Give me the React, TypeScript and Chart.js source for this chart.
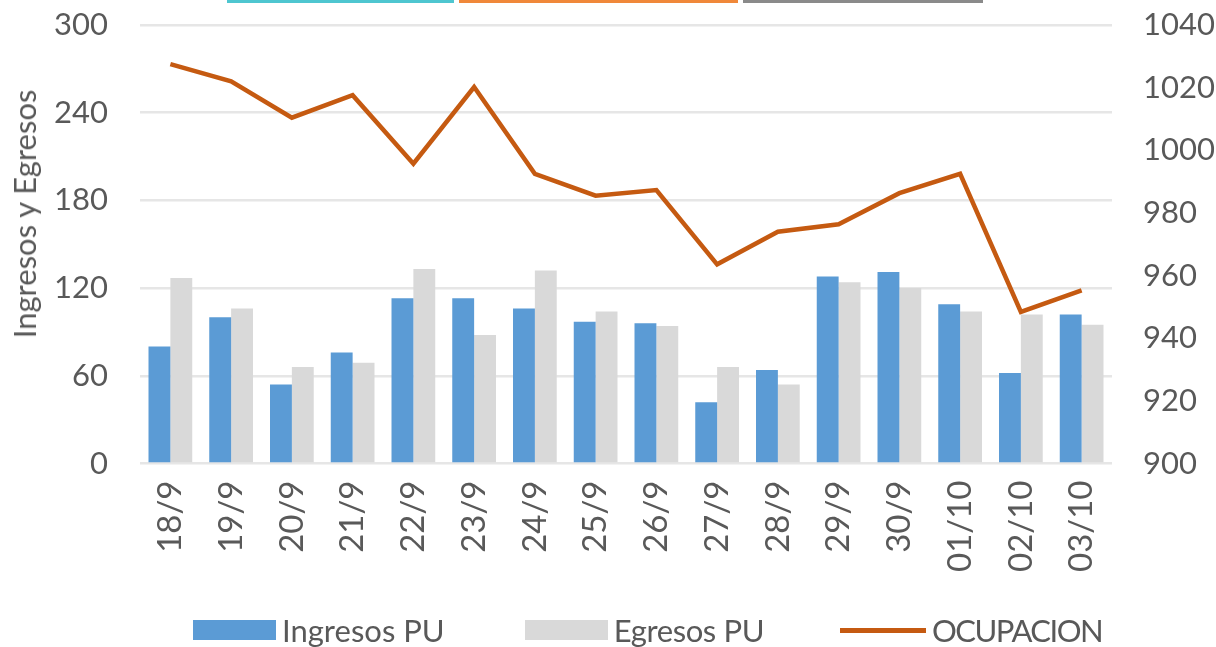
import React, { useEffect, useRef } from "react";
import { Chart, registerables } from "chart.js";

Chart.register(...registerables);

const categories = ["18/9", "19/9", "20/9", "21/9", "22/9", "23/9", "24/9", "25/9", "26/9", "27/9", "28/9", "29/9", "30/9", "01/10", "02/10", "03/10"];
const ingresos = [80, 100, 54, 76, 113, 113, 106, 97, 96, 42, 64, 128, 131, 109, 62, 102];
const egresos = [127, 106, 66, 69, 133, 88, 132, 104, 94, 66, 54, 124, 120, 104, 102, 95];
const ocupacion = [1027.5, 1022, 1010.4, 1017.6, 995.7, 1020.2, 992.5, 985.5, 987.3, 963.6, 974, 976.4, 986.3, 992.5, 948.4, 955.3];
const leftTicks = [0, 60, 120, 180, 240, 300];
const rightTicks = [900, 920, 940, 960, 980, 1000, 1020, 1040];
const yTitle = "Ingresos y Egresos";

const FONT = "Lato, 'Open Sans', sans-serif";
const TEXT = "#595959";
const BLUE = "#5B9BD5";
const GRAY = "#D9D9D9";
const ORANGE = "#C55A11";

export default function App() {
  const ref = useRef<HTMLCanvasElement | null>(null);
  useEffect(() => {
    if (!ref.current) return;
    const chart = new Chart(ref.current, {
      data: {
        labels: categories,
        datasets: [
          {
            type: "line",
            label: "OCUPACION",
            data: ocupacion,
            yAxisID: "y1",
            borderColor: ORANGE,
            backgroundColor: ORANGE,
            borderWidth: 4.5,
            pointRadius: 0,
            tension: 0,
            order: 0,
          },
          {
            type: "bar",
            label: "Ingresos PU",
            data: ingresos,
            yAxisID: "y",
            backgroundColor: BLUE,
            borderWidth: 0,
            categoryPercentage: 0.72,
            barPercentage: 1,
            order: 1,
          },
          {
            type: "bar",
            label: "Egresos PU",
            data: egresos,
            yAxisID: "y",
            backgroundColor: GRAY,
            borderWidth: 0,
            categoryPercentage: 0.72,
            barPercentage: 1,
            order: 1,
          },
        ],
      } as any,
      options: {
        animation: false,
        responsive: true,
        maintainAspectRatio: false,
        layout: { padding: { top: 25, left: 0, right: 0, bottom: 66 } },
        plugins: {
          tooltip: { enabled: false },
          legend: { display: false },
        },
        scales: {
          x: {
            grid: { display: false },
            border: { display: false },
            ticks: {
              color: TEXT,
              font: { family: FONT, size: 33 },
              minRotation: 90,
              maxRotation: 90,
              autoSkip: false,
              padding: 9,
            },
          },
          y: {
            position: "left",
            min: 0,
            max: 300,
            afterBuildTicks: (axis: any) => {
              axis.ticks = leftTicks.map((v) => ({ value: v }));
            },
            afterFit: (axis: any) => {
              axis.width = 140;
              axis.paddingTop = 0;
              axis.paddingBottom = 0;
            },
            grid: { color: "#E6E6E6", lineWidth: 2.5, drawTicks: false },
            border: { display: false },
            ticks: {
              color: TEXT,
              font: { family: FONT, size: 31 },
              padding: 32,
              callback: (v: any) => String(v),
            },
          },
          y1: {
            position: "right",
            min: 900,
            max: 1040,
            afterBuildTicks: (axis: any) => {
              axis.ticks = rightTicks.map((v) => ({ value: v }));
            },
            afterFit: (axis: any) => {
              axis.width = 104;
              axis.paddingTop = 0;
              axis.paddingBottom = 0;
            },
            grid: { display: false, drawTicks: false },
            border: { display: false },
            ticks: {
              color: TEXT,
              font: { family: FONT, size: 31 },
              padding: 31,
              callback: (v: any) => String(v),
            },
          },
        },
      } as any,
    });
    return () => chart.destroy();
  }, []);

  const topBar = (left: number, width: number, color: string) => (
    <div style={{ position: "absolute", top: 0, left, width, height: 2.5, background: color }} />
  );

  const legendItem = (label: string, swatch: React.ReactNode, gap: number, spacing: number) => (
    <div style={{ display: "flex", alignItems: "center", marginRight: gap }}>
      {swatch}
      <span
        style={{
          marginLeft: 6,
          fontFamily: FONT,
          fontSize: 31,
          color: TEXT,
          lineHeight: "36px",
          whiteSpace: "nowrap",
          letterSpacing: spacing,
        }}
      >
        {label}
      </span>
    </div>
  );

  return (
    <div style={{ position: "fixed", top: 0, left: 0, width: 1216, height: 647, background: "#fff", overflow: "hidden" }}>
      <canvas ref={ref} />
      <div
        style={{
          position: "absolute",
          left: 24,
          top: 214,
          transform: "translate(-50%, -50%) rotate(-90deg)",
          fontFamily: FONT,
          fontSize: 31,
          lineHeight: "36px",
          color: TEXT,
          whiteSpace: "nowrap",
        }}
      >
        {yTitle}
      </div>
      {topBar(227, 227, "#4EC6D0")}
      {topBar(459, 279, "#F0883A")}
      {topBar(743, 240, "#8A8A8A")}
      <div style={{ position: "absolute", left: 193, top: 612, height: 36, display: "flex", alignItems: "center" }}>
        {legendItem("Ingresos PU", <div style={{ width: 83, height: 20, background: BLUE }} />, 80, 0)}
        {legendItem("Egresos PU", <div style={{ width: 83, height: 20, background: GRAY }} />, 76, -0.4)}
        {legendItem("OCUPACION", <div style={{ width: 86, height: 5, background: ORANGE }} />, 0, -1.5)}
      </div>
    </div>
  );
}
